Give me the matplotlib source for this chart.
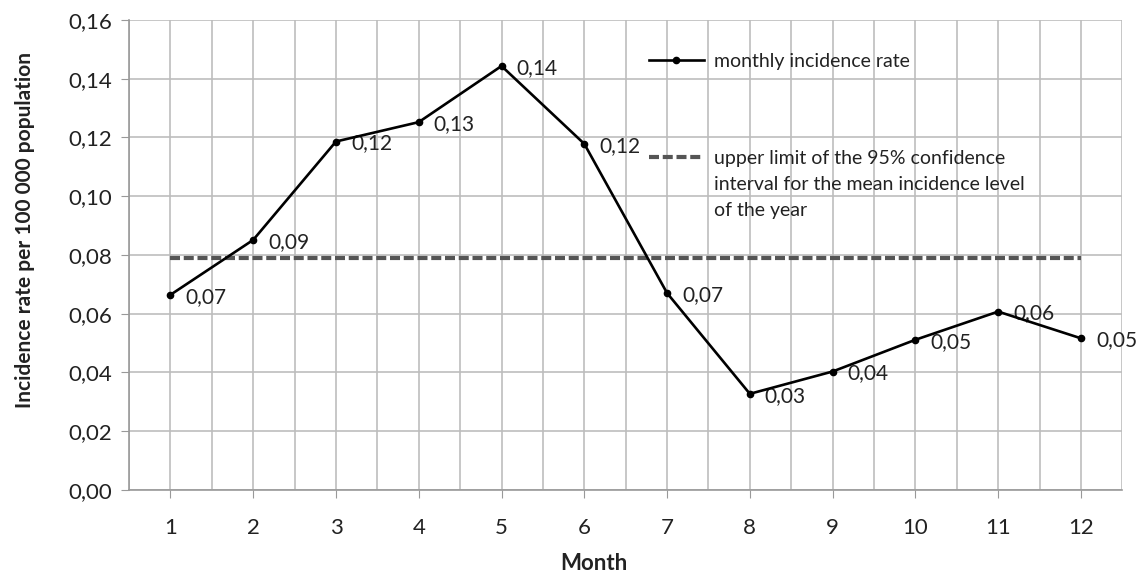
import numpy as np
import matplotlib
matplotlib.use("Agg")
import matplotlib.pyplot as plt
from matplotlib.ticker import MultipleLocator, FuncFormatter

plt.rcParams['font.family'] = ['Lato', 'DejaVu Sans']

# mjesecna incidencija na 100 000 stanovnika
months = np.arange(1, 13)
rate = [0.0664, 0.0851, 0.1186, 0.1252, 0.1443, 0.1178,
        0.0670, 0.0327, 0.0403, 0.0511, 0.0607, 0.0516]
upper_ci = 0.0789

fig = plt.figure(figsize=(11.45, 5.77), dpi=100)
ax = fig.add_axes([0.1127, 0.151, 0.8675, 0.8145])

ax.plot(months, [upper_ci] * len(months), color='#555555', lw=3.0,
        dashes=(2.4, 0.9), label='upper limit of the 95% confidence', zorder=3)
ax.plot(months, rate, color='black', lw=1.9, marker='o', ms=4.5,
        label='monthly incidence rate', zorder=4)

for m, r in zip(months, rate):
    ax.annotate(f'{r:.2f}'.replace('.', ','), (m, r), xytext=(15, -2),
                textcoords='offset pixels', ha='left', va='center',
                fontsize=15, color='#222222')

ax.set_xlim(0.5, 12.5)
ax.set_ylim(0, 0.16)
ax.set_xticks(months)
ax.xaxis.set_minor_locator(MultipleLocator(0.5))
ax.yaxis.set_major_locator(MultipleLocator(0.02))
ax.yaxis.set_major_formatter(FuncFormatter(lambda v, p: f'{v:.2f}'.replace('.', ',')))

ax.grid(True, which='both', axis='x', color='#bdbdbd', lw=1.2)
ax.grid(True, which='major', axis='y', color='#bdbdbd', lw=1.2)
ax.set_axisbelow(True)

for s in ['top', 'right']:
    ax.spines[s].set_visible(False)
for s in ['left', 'bottom']:
    ax.spines[s].set_color('#999999')
    ax.spines[s].set_linewidth(1.2)

ax.tick_params(axis='x', which='major', length=6, color='#999999', labelsize=16,
               labelcolor='#222222', pad=14)
ax.tick_params(axis='x', which='minor', length=0)
ax.tick_params(axis='y', length=6, color='#999999', labelsize=16,
               labelcolor='#222222', pad=6)

ax.set_xlabel('Month', fontsize=16, fontweight='bold', color='#222222')
ax.xaxis.set_label_coords(0.468, -0.134)
ax.set_ylabel('Incidence rate per 100 000 population', fontsize=15,
              fontweight='bold', color='#222222')
ax.yaxis.set_label_coords(-0.095, 0.553)

handles, labels = ax.get_legend_handles_labels()
leg = ax.legend(handles[::-1], labels[::-1], loc='upper left',
                bbox_to_anchor=(0.506, 0.967), frameon=False, fontsize=14,
                handlelength=2.8, handletextpad=0.55, labelspacing=4.1,
                labelcolor='#222222')
# nastavak teksta druge stavke legende, ispod prvog reda
ax.annotate('interval for the mean incidence level\nof the year',
            xy=(0, 0), xycoords=leg.get_texts()[1], xytext=(0, -9),
            textcoords='offset pixels', ha='left', va='top', zorder=10,
            fontsize=14, color='#222222', linespacing=1.7)

fig.savefig('out.png', dpi=100)
